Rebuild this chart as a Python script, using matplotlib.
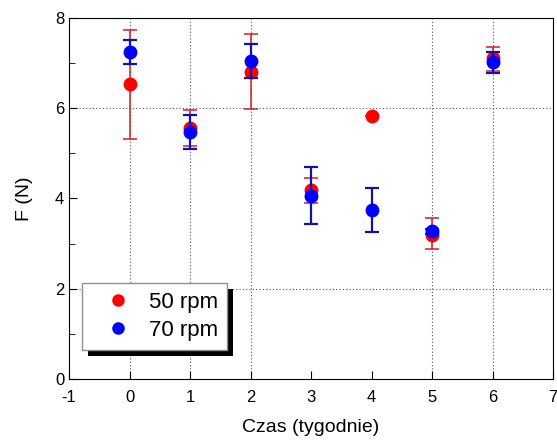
import matplotlib
matplotlib.use("Agg")
import matplotlib.pyplot as plt
from matplotlib.lines import Line2D
from matplotlib.patches import Rectangle
from matplotlib.ticker import MultipleLocator

plt.rcParams["font.family"] = ["Liberation Sans", "DejaVu Sans"]
plt.rcParams["axes.unicode_minus"] = False

weeks = [0, 1, 2, 3, 4, 5, 6]

f_50 = [6.53, 5.57, 6.81, 4.19, 5.82, 3.20, 7.12]
f_50_lo = [1.21, 0.40, 0.83, 0.30, 0.0, 0.33, 0.30]
f_50_hi = [1.21, 0.39, 0.84, 0.27, 0.0, 0.37, 0.24]

f_70 = [7.25, 5.48, 7.05, 4.06, 3.75, 3.27, 7.02]
f_70_err = [0.27, 0.38, 0.38, 0.63, 0.49, 0.05, 0.23]

series_labels = ["50 rpm", "70 rpm"]
grid_x = [0, 1, 2, 5, 6]
grid_y = [2, 6]

fig = plt.figure(figsize=(5.57, 4.41), dpi=100)
ax = fig.add_axes([0.124, 0.141, 0.869, 0.818])

for gx in grid_x:
    ax.axvline(gx, color="#505070", lw=0.8, ls=(0, (1, 2)), zorder=0)
for gy in grid_y:
    ax.axhline(gy, color="#505070", lw=0.8, ls=(0, (1, 2)), zorder=0)

ax.errorbar(weeks, f_50, yerr=[f_50_lo, f_50_hi], fmt="o", color="#ff0000",
            ecolor="#d02020", elinewidth=1.1, capsize=5, capthick=1.1,
            markersize=9, zorder=3)
ax.errorbar(weeks, f_70, yerr=f_70_err, fmt="o", color="#0000ff",
            ecolor="#1010b0", elinewidth=1.6, capsize=5, capthick=1.6,
            markersize=9, zorder=4)

ax.set_xlim(-1, 7)
ax.set_ylim(0, 8)
ax.xaxis.set_major_locator(MultipleLocator(1))
ax.yaxis.set_major_locator(MultipleLocator(2))
ax.yaxis.set_minor_locator(MultipleLocator(1))
ax.tick_params(which="both", direction="in", labelsize=12, top=False, right=False)
ax.tick_params(which="major", length=6)
ax.tick_params(which="minor", length=4)
ax.tick_params(axis="x", pad=8)

ax.set_xlabel("Czas (tygodnie)", fontsize=14, labelpad=10)
ax.set_ylabel("F (N)", fontsize=14, labelpad=16)

handles = [
    Line2D([], [], ls="none", marker="o", color="#ff0000", markersize=8),
    Line2D([], [], ls="none", marker="o", color="#0000ff", markersize=8),
]
leg = ax.legend(handles, series_labels, loc="lower left",
                bbox_to_anchor=(0.004, 0.05), fontsize=16, frameon=True,
                fancybox=False, shadow=False, framealpha=1.0,
                handletextpad=0.2, borderpad=0.4, labelspacing=0.3,
                handlelength=2.4)
leg.get_frame().set_edgecolor("#909090")
leg.get_frame().set_facecolor("white")
leg.get_frame().set_linewidth(1.0)
leg.set_zorder(6)

# solid black drop shadow, offset right/down
fig.canvas.draw()
bb = leg.get_window_extent().transformed(fig.transFigure.inverted())
dx, dy = 6 / 557, 6 / 441
shadow = Rectangle((bb.x0 + dx, bb.y0 - dy), bb.width, bb.height,
                   transform=fig.transFigure, facecolor="black",
                   edgecolor="none", clip_on=False, zorder=5)
ax.add_patch(shadow)

fig.savefig("out.png", dpi=100)
